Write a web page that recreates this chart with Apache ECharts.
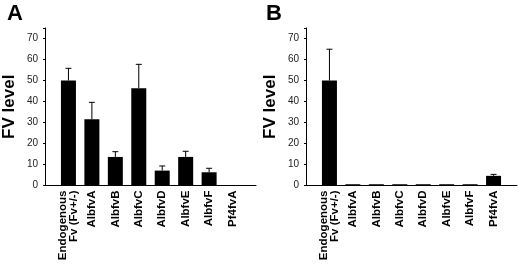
<!DOCTYPE html>
<html>
<head>
<meta charset="utf-8">
<script src="https://cdn.jsdelivr.net/npm/echarts@6/dist/echarts.min.js"></script>
<style>
  html, body { margin: 0; padding: 0; background: #fff; }
  #chart { width: 520px; height: 270px; }
</style>
</head>
<body>
<div id="chart"></div>
<script>
var categories = ['Endogenous\nFv (Fv+/-)', 'AlbfvA', 'AlbfvB', 'AlbfvC', 'AlbfvD', 'AlbfvE', 'AlbfvF', 'Pf4fvA'];
var levelsA = [50, 31.5, 13.6, 46.3, 7.1, 13.6, 6.3, 0.2];
var errTopA = [55.8, 39.6, 16.1, 57.7, 9.3, 16.3, 8.2, null];
var levelsB = [50, 0.6, 0.6, 0.6, 0.6, 0.6, 0.6, 4.6];
var errTopB = [64.9, null, null, null, null, null, null, 5.3];
var yTicks = [0, 10, 20, 30, 40, 50, 60, 70];

var chartDom = document.getElementById('chart');
var myChart = echarts.init(chartDom);
var font = 'Liberation Sans, Arial, sans-serif';

// pad one empty slot on each side so bars sit inside the axis line
function padCats() {
  var out = [''];
  for (let i = 0; i < categories.length; i++) {
    if (i === 0) {
      // two-line label sits a little left of its bar
      out.push({ value: categories[i], textStyle: { padding: [0, 0, 12, 0] } });
    } else {
      out.push(categories[i]);
    }
  }
  out.push('');
  return out;
}
function pad(arr) {
  return ['-'].concat(arr, ['-']);
}
function errData(vals, tops) {
  var out = [];
  for (let i = 0; i < vals.length; i++) {
    if (tops[i] != null) out.push([i + 1, vals[i], tops[i]]);
  }
  return out;
}

function renderErr(params, api) {
  var base = api.coord([api.value(0), api.value(1)]);
  var top = api.coord([api.value(0), api.value(2)]);
  var half = 3;
  return {
    type: 'group',
    children: [
      { type: 'line', shape: { x1: base[0], y1: base[1], x2: top[0], y2: top[1] }, style: { stroke: '#000', lineWidth: 1 } },
      { type: 'line', shape: { x1: top[0] - half, y1: top[1], x2: top[0] + half, y2: top[1] }, style: { stroke: '#000', lineWidth: 1 } }
    ]
  };
}

function xAxisFor(gi) {
  return {
    type: 'category',
    gridIndex: gi,
    data: padCats(),
    boundaryGap: false,
    axisLine: { lineStyle: { color: '#000', width: 1 } },
    axisTick: { show: false },
    axisLabel: {
      interval: 0,
      rotate: 90,
      margin: 5,
      color: '#000',
      fontFamily: font,
      fontWeight: 'bold',
      fontSize: 11.5,
      lineHeight: 11
    }
  };
}

function yAxisFor(gi) {
  return {
    type: 'value',
    gridIndex: gi,
    min: 0,
    max: 75,
    interval: 10,
    name: 'FV level',
    nameLocation: 'middle',
    nameGap: 27,
    nameTextStyle: { fontFamily: font, fontWeight: 'bold', fontSize: 17, color: '#000' },
    axisLine: { show: true, lineStyle: { color: '#000', width: 1 } },
    axisTick: { show: true, length: 2, lineStyle: { color: '#000' } },
    splitLine: { show: false },
    axisLabel: {
      color: '#222',
      fontFamily: font,
      fontSize: 10,
      margin: 7,
      formatter: function (v) { return yTicks.indexOf(v) >= 0 ? String(v) : ''; }
    }
  };
}

var option = {
  animation: false,
  backgroundColor: '#fff',
  title: [
    { text: 'A', left: 2, top: -2, textStyle: { fontFamily: font, fontWeight: 'bold', fontSize: 22, color: '#000' } },
    { text: 'B', left: 261, top: -2, textStyle: { fontFamily: font, fontWeight: 'bold', fontSize: 22, color: '#000' } }
  ],
  grid: [
    { left: 45, top: 28, width: 211, height: 157.5 },
    { left: 306, top: 28, width: 211, height: 157.5 }
  ],
  xAxis: [xAxisFor(0), xAxisFor(1)],
  yAxis: [yAxisFor(0), yAxisFor(1)],
  series: [
    { type: 'bar', xAxisIndex: 0, yAxisIndex: 0, barWidth: 15, itemStyle: { color: '#000' }, data: pad(levelsA) },
    { type: 'custom', xAxisIndex: 0, yAxisIndex: 0, renderItem: renderErr, data: errData(levelsA, errTopA), z: 3 },
    { type: 'bar', xAxisIndex: 1, yAxisIndex: 1, barWidth: 15, itemStyle: { color: '#000' }, data: pad(levelsB) },
    { type: 'custom', xAxisIndex: 1, yAxisIndex: 1, renderItem: renderErr, data: errData(levelsB, errTopB), z: 3 }
  ]
};

option && myChart.setOption(option);
</script>
</body>
</html>
